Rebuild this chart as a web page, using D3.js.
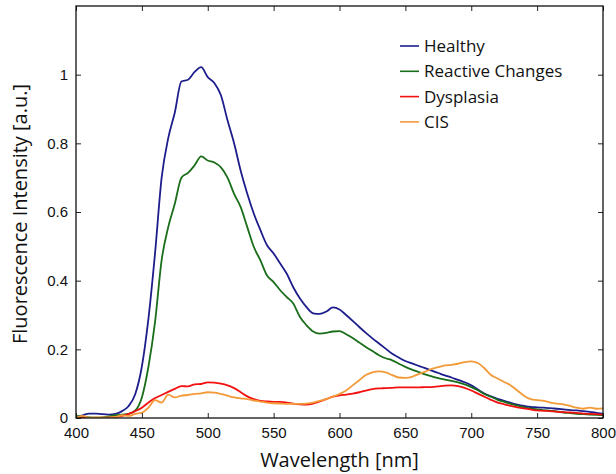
<!DOCTYPE html>
<html>
<head>
<meta charset="utf-8">
<script src="https://cdn.jsdelivr.net/npm/d3@7"></script>
<style>
  html, body { margin: 0; padding: 0; background: #fff; }
  svg { display: block; font-family: "Open Sans", "Noto Sans", sans-serif; }
</style>
</head>
<body>
<svg id="chart"></svg>
<script>
// ── Data ───────────────────────────────────────────────────────────────────
const wavelengths = d3.range(400, 801, 5);

const healthy = [
  0.002, 0.008, 0.013, 0.013, 0.011, 0.010, 0.012, 0.020, 0.035, 0.070,
  0.150, 0.290, 0.480, 0.700, 0.815, 0.890, 0.980, 0.985, 1.008, 1.022,
  0.993, 0.976, 0.940, 0.867, 0.800, 0.720, 0.653, 0.595, 0.547, 0.503,
  0.479, 0.450, 0.420, 0.380, 0.348, 0.323, 0.305, 0.303, 0.310, 0.322,
  0.316, 0.300, 0.283, 0.265, 0.248, 0.232, 0.217, 0.202, 0.187, 0.176,
  0.166, 0.159, 0.152, 0.145, 0.138, 0.131, 0.124, 0.118, 0.111, 0.104,
  0.095, 0.083, 0.071, 0.063, 0.056, 0.050, 0.044, 0.039, 0.035, 0.032,
  0.031, 0.030, 0.029, 0.027, 0.025, 0.023, 0.022, 0.020, 0.018, 0.015,
  0.012
];

const reactive = [
  0.006, 0.004, 0.002, 0.001, 0.002, 0.005, 0.008, 0.010, 0.012, 0.022,
  0.060, 0.150, 0.280, 0.460, 0.556, 0.624, 0.700, 0.714, 0.736, 0.762,
  0.750, 0.744, 0.730, 0.700, 0.653, 0.614, 0.556, 0.498, 0.459, 0.415,
  0.396, 0.372, 0.352, 0.333, 0.294, 0.270, 0.252, 0.246, 0.248, 0.252,
  0.253, 0.244, 0.233, 0.220, 0.207, 0.195, 0.183, 0.174, 0.168, 0.158,
  0.149, 0.141, 0.134, 0.127, 0.121, 0.116, 0.112, 0.108, 0.104, 0.098,
  0.090, 0.081, 0.070, 0.062, 0.053, 0.047, 0.041, 0.036, 0.031, 0.028,
  0.025, 0.023, 0.021, 0.019, 0.016, 0.014, 0.012, 0.011, 0.010, 0.009,
  0.008
];

const dysplasia = [
  0.000, 0.001, 0.000, 0.000, 0.000, 0.001, 0.003, 0.006, 0.012, 0.020,
  0.030, 0.045, 0.058, 0.067, 0.076, 0.085, 0.093, 0.092, 0.098, 0.099,
  0.104, 0.103, 0.100, 0.095, 0.087, 0.075, 0.063, 0.055, 0.050, 0.048,
  0.047, 0.047, 0.045, 0.042, 0.040, 0.039, 0.042, 0.048, 0.055, 0.062,
  0.066, 0.068, 0.071, 0.075, 0.080, 0.084, 0.086, 0.087, 0.088, 0.089,
  0.089, 0.089, 0.089, 0.090, 0.090, 0.092, 0.094, 0.095, 0.093, 0.088,
  0.080, 0.071, 0.062, 0.053, 0.045, 0.040, 0.035, 0.031, 0.028, 0.025,
  0.022, 0.021, 0.020, 0.018, 0.017, 0.016, 0.015, 0.013, 0.012, 0.011,
  0.010
];

const cis = [
  0.000, 0.006, 0.001, 0.002, 0.002, 0.002, 0.003, 0.008, 0.006, 0.012,
  0.015, 0.030, 0.052, 0.045, 0.068, 0.060, 0.065, 0.067, 0.070, 0.072,
  0.075, 0.074, 0.070, 0.065, 0.060, 0.057, 0.055, 0.051, 0.048, 0.045,
  0.043, 0.042, 0.041, 0.041, 0.041, 0.042, 0.045, 0.050, 0.055, 0.062,
  0.070, 0.080, 0.095, 0.110, 0.125, 0.133, 0.136, 0.133, 0.125, 0.118,
  0.117, 0.120, 0.128, 0.135, 0.143, 0.148, 0.153, 0.155, 0.158, 0.163,
  0.165, 0.160, 0.145, 0.125, 0.115, 0.105, 0.095, 0.080, 0.065, 0.055,
  0.052, 0.050, 0.045, 0.042, 0.040, 0.035, 0.030, 0.027, 0.030, 0.027,
  0.028
];

const seriesNames  = ['Healthy', 'Reactive Changes', 'Dysplasia', 'CIS'];
const seriesValues = [healthy, reactive, dysplasia, cis];
const seriesColors = ['#1d1d8c', '#1a6e1a', '#f21010', '#f39a38'];

const xTicks = [400, 450, 500, 550, 600, 650, 700, 750, 800];
const yTicks = [0, 0.2, 0.4, 0.6, 0.8, 1];

// ── Layout ─────────────────────────────────────────────────────────────────
const width = 616, height = 474;
const margin = { top: 6, right: 13, bottom: 56, left: 76 };
const innerW = width - margin.left - margin.right;
const innerH = height - margin.top - margin.bottom;
const tickLen = 5;

const svg = d3.select('#chart')
  .attr('width', width)
  .attr('height', height)
  .attr('viewBox', `0 0 ${width} ${height}`);

const g = svg.append('g')
  .attr('transform', `translate(${margin.left},${margin.top})`);

const x = d3.scaleLinear().domain([400, 800]).range([0, innerW]);
const y = d3.scaleLinear().domain([0, 1.2]).range([innerH, 0]);

// ── Curves ─────────────────────────────────────────────────────────────────
const line = d3.line()
  .x(d => x(d[0]))
  .y(d => y(d[1]))
  .curve(d3.curveMonotoneX);

g.append('defs').append('clipPath').attr('id', 'plot-clip')
  .append('rect').attr('width', innerW).attr('height', innerH);

g.append('g')
  .attr('clip-path', 'url(#plot-clip)')
  .selectAll('path.series')
  .data(seriesValues)
  .join('path')
    .attr('class', 'series')
    .attr('fill', 'none')
    .attr('stroke', (d, i) => seriesColors[i])
    .attr('stroke-width', 1.8)
    .attr('stroke-linejoin', 'round')
    .attr('d', vals => line(vals.map((v, i) => [wavelengths[i], v])));

// ── Axes (MATLAB-style box with inward ticks on all sides) ─────────────────
function styleAxis(sel) {
  sel.select('.domain').remove();
  sel.selectAll('.tick line').attr('stroke', '#222').attr('stroke-width', 1);
  sel.selectAll('.tick text').attr('fill', '#111').attr('font-size', 15);
}

g.append('g')
  .attr('transform', `translate(0,${innerH})`)
  .call(d3.axisBottom(x).tickValues(xTicks).tickSizeInner(-tickLen).tickSizeOuter(0).tickPadding(9))
  .call(styleAxis);

g.append('g')
  .call(d3.axisTop(x).tickValues(xTicks).tickSizeInner(-tickLen).tickSizeOuter(0).tickFormat(''))
  .call(styleAxis);

g.append('g')
  .call(d3.axisLeft(y).tickValues(yTicks).tickSizeInner(-tickLen).tickSizeOuter(0).tickPadding(8)
    .tickFormat(d => d3.format('~g')(d)))
  .call(styleAxis);

g.append('g')
  .attr('transform', `translate(${innerW},0)`)
  .call(d3.axisRight(y).tickValues(yTicks).tickSizeInner(-tickLen).tickSizeOuter(0).tickFormat(''))
  .call(styleAxis);

g.append('rect')
  .attr('width', innerW)
  .attr('height', innerH)
  .attr('fill', 'none')
  .attr('stroke', '#111')
  .attr('stroke-width', 1.3);

// ── Axis titles ────────────────────────────────────────────────────────────
svg.append('text')
  .attr('x', margin.left + innerW / 2)
  .attr('y', 467)
  .attr('text-anchor', 'middle')
  .attr('font-size', 20)
  .attr('fill', '#111')
  .text('Wavelength [nm]');

svg.append('text')
  .attr('transform', `translate(27,${margin.top + innerH / 2 + 2}) rotate(-90)`)
  .attr('text-anchor', 'middle')
  .attr('font-size', 20)
  .attr('fill', '#111')
  .text('Fluorescence Intensity [a.u.]');

// ── Legend ─────────────────────────────────────────────────────────────────
const legend = svg.append('g').attr('transform', 'translate(400,46)');
const rows = legend.selectAll('g.row')
  .data(seriesNames)
  .join('g')
    .attr('class', 'row')
    .attr('transform', (d, i) => `translate(0,${i * 25.3})`);

rows.append('line')
  .attr('x1', 0).attr('x2', 19)
  .attr('stroke', (d, i) => seriesColors[i])
  .attr('stroke-width', 1.6);

rows.append('text')
  .attr('x', 24)
  .attr('dy', '0.35em')
  .attr('font-size', 17)
  .attr('fill', '#111')
  .text(d => d);
</script>
</body>
</html>
